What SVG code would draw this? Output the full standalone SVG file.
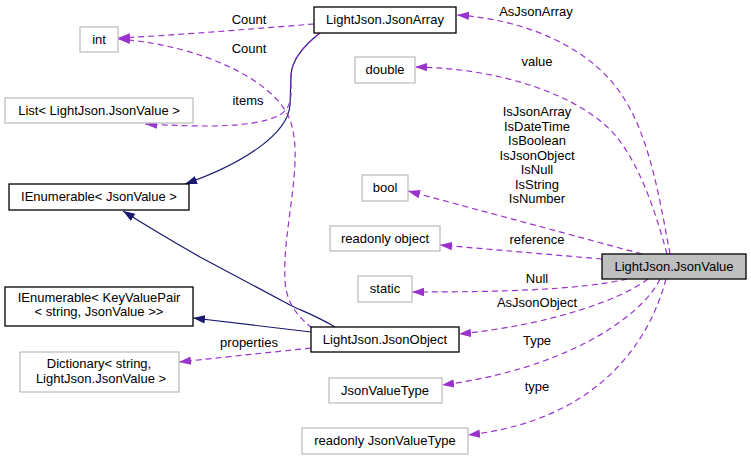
<svg xmlns="http://www.w3.org/2000/svg" width="751" height="460" viewBox="0 0 751 460">
<style>
text{font-family:"Liberation Sans",Arial,sans-serif;font-size:13px;fill:#000;text-anchor:middle}
.ext{fill:#fff;stroke:#bfbfbf;stroke-width:1.3}
.cls{fill:#fff;stroke:#000;stroke-width:1.3}
.cur{fill:#bfbfbf;stroke:#000;stroke-width:1.3}
.use{fill:none;stroke:#9a32cd;stroke-width:1.2;stroke-dasharray:6,4;marker-end:url(#pa)}
.inh{fill:none;stroke:#191970;stroke-width:1.2;marker-end:url(#ba)}
</style>
<defs>
<marker id="pa" markerUnits="userSpaceOnUse" markerWidth="14" markerHeight="10" refX="12" refY="5" orient="auto"><path d="M0,0.8 L12,5 L0,9.2 Z" fill="#9a32cd"/></marker>
<marker id="ba" markerUnits="userSpaceOnUse" markerWidth="14" markerHeight="10" refX="12" refY="5" orient="auto"><path d="M0,0.8 L12,5 L0,9.2 Z" fill="#191970"/></marker>
</defs>
<rect width="751" height="460" fill="#fff"/>
<g id="connectors">
<path class="inh" d="M320,33 C302,47 292,60 291,75 L290,105 C288,135 240,165 185,184"/>
<path class="inh" d="M335,327 C315,315 302,311 290,305 L200,257 C165,237 142,223 123,211"/>
<path class="inh" d="M311,332 L193,318"/>
<path class="use" d="M314,24 C250,29 180,35 118,38"/>
<path class="use" d="M312,328 C300,318 286,305 285,280 C282,230 305,160 290,120 C275,80 200,45 118,39"/>
<path class="use" d="M320,33 C302,47 292,60 291,75 C290,90 295,105 280,115 C250,130 190,126 145,124"/>
<path class="use" d="M311,348 L179,362"/>
<path class="use" d="M670,254 C660,200 650,140 625,100 C595,50 530,20 457,15"/>
<path class="use" d="M667,254 C655,210 640,165 615,135 C580,95 500,68 415,67"/>
<path class="use" d="M642,254 L408,191"/>
<path class="use" d="M602,259 L440,245"/>
<path class="use" d="M627,279 C580,290 500,292 412,292"/>
<path class="use" d="M648,279 C620,300 550,325 459,334"/>
<path class="use" d="M660,279 C640,320 560,370 442,385"/>
<path class="use" d="M666,279 C650,340 600,420 468,435"/>
<text x="249" y="24">Count</text>
<text x="249" y="53">Count</text>
<text x="248" y="105">items</text>
<text x="249" y="347">properties</text>
<text x="536" y="16">AsJsonArray</text>
<text x="537" y="66">value</text>
<text x="537" y="116">IsJsonArray</text>
<text x="537" y="130.5">IsDateTime</text>
<text x="537" y="145">IsBoolean</text>
<text x="537" y="159.5">IsJsonObject</text>
<text x="537" y="174">IsNull</text>
<text x="537" y="188.5">IsString</text>
<text x="537" y="203">IsNumber</text>
<text x="537" y="244">reference</text>
<text x="537" y="283">Null</text>
<text x="537" y="307">AsJsonObject</text>
<text x="537" y="345">Type</text>
<text x="537" y="391">type</text>
</g>
<g id="int"><rect class="ext" x="80" y="27" width="38" height="25"/><text x="99" y="44">int</text></g>
<g id="list"><rect class="ext" x="5" y="98" width="188" height="25"/><text x="99" y="115">List&lt; LightJson.JsonValue &gt;</text></g>
<g id="jsonarray"><rect class="cls" x="314" y="7" width="142" height="26"/><text x="385" y="24">LightJson.JsonArray</text></g>
<g id="double"><rect class="ext" x="355" y="57" width="60" height="26"/><text x="385" y="74">double</text></g>
<g id="ienum"><rect class="cls" x="9" y="184" width="180" height="26"/><text x="99" y="201">IEnumerable&lt; JsonValue &gt;</text></g>
<g id="ienumkvp"><rect class="cls" x="5" y="287" width="188" height="39"/><text x="99" y="302">IEnumerable&lt; KeyValuePair</text><text x="99" y="316">&lt; string, JsonValue &gt;&gt;</text></g>
<g id="dict"><rect class="ext" x="20" y="352" width="159" height="40"/><text x="99" y="368">Dictionary&lt; string,</text><text x="101" y="383">LightJson.JsonValue &gt;</text></g>
<g id="bool"><rect class="ext" x="362" y="175" width="46" height="26"/><text x="385" y="192">bool</text></g>
<g id="robject"><rect class="ext" x="330" y="226" width="110" height="25"/><text x="385" y="243">readonly object</text></g>
<g id="static"><rect class="ext" x="358" y="276" width="54" height="26"/><text x="385" y="293">static</text></g>
<g id="jsonvalue"><rect class="cur" x="602" y="254" width="144" height="25"/><text x="674" y="271">LightJson.JsonValue</text></g>
<g id="jsonobject"><rect class="cls" x="311" y="327" width="148" height="25"/><text x="385" y="344">LightJson.JsonObject</text></g>
<g id="jvt"><rect class="ext" x="329" y="378" width="113" height="25"/><text x="385" y="395">JsonValueType</text></g>
<g id="rjvt"><rect class="ext" x="302" y="428" width="166" height="26"/><text x="385" y="445">readonly JsonValueType</text></g>
</svg>
